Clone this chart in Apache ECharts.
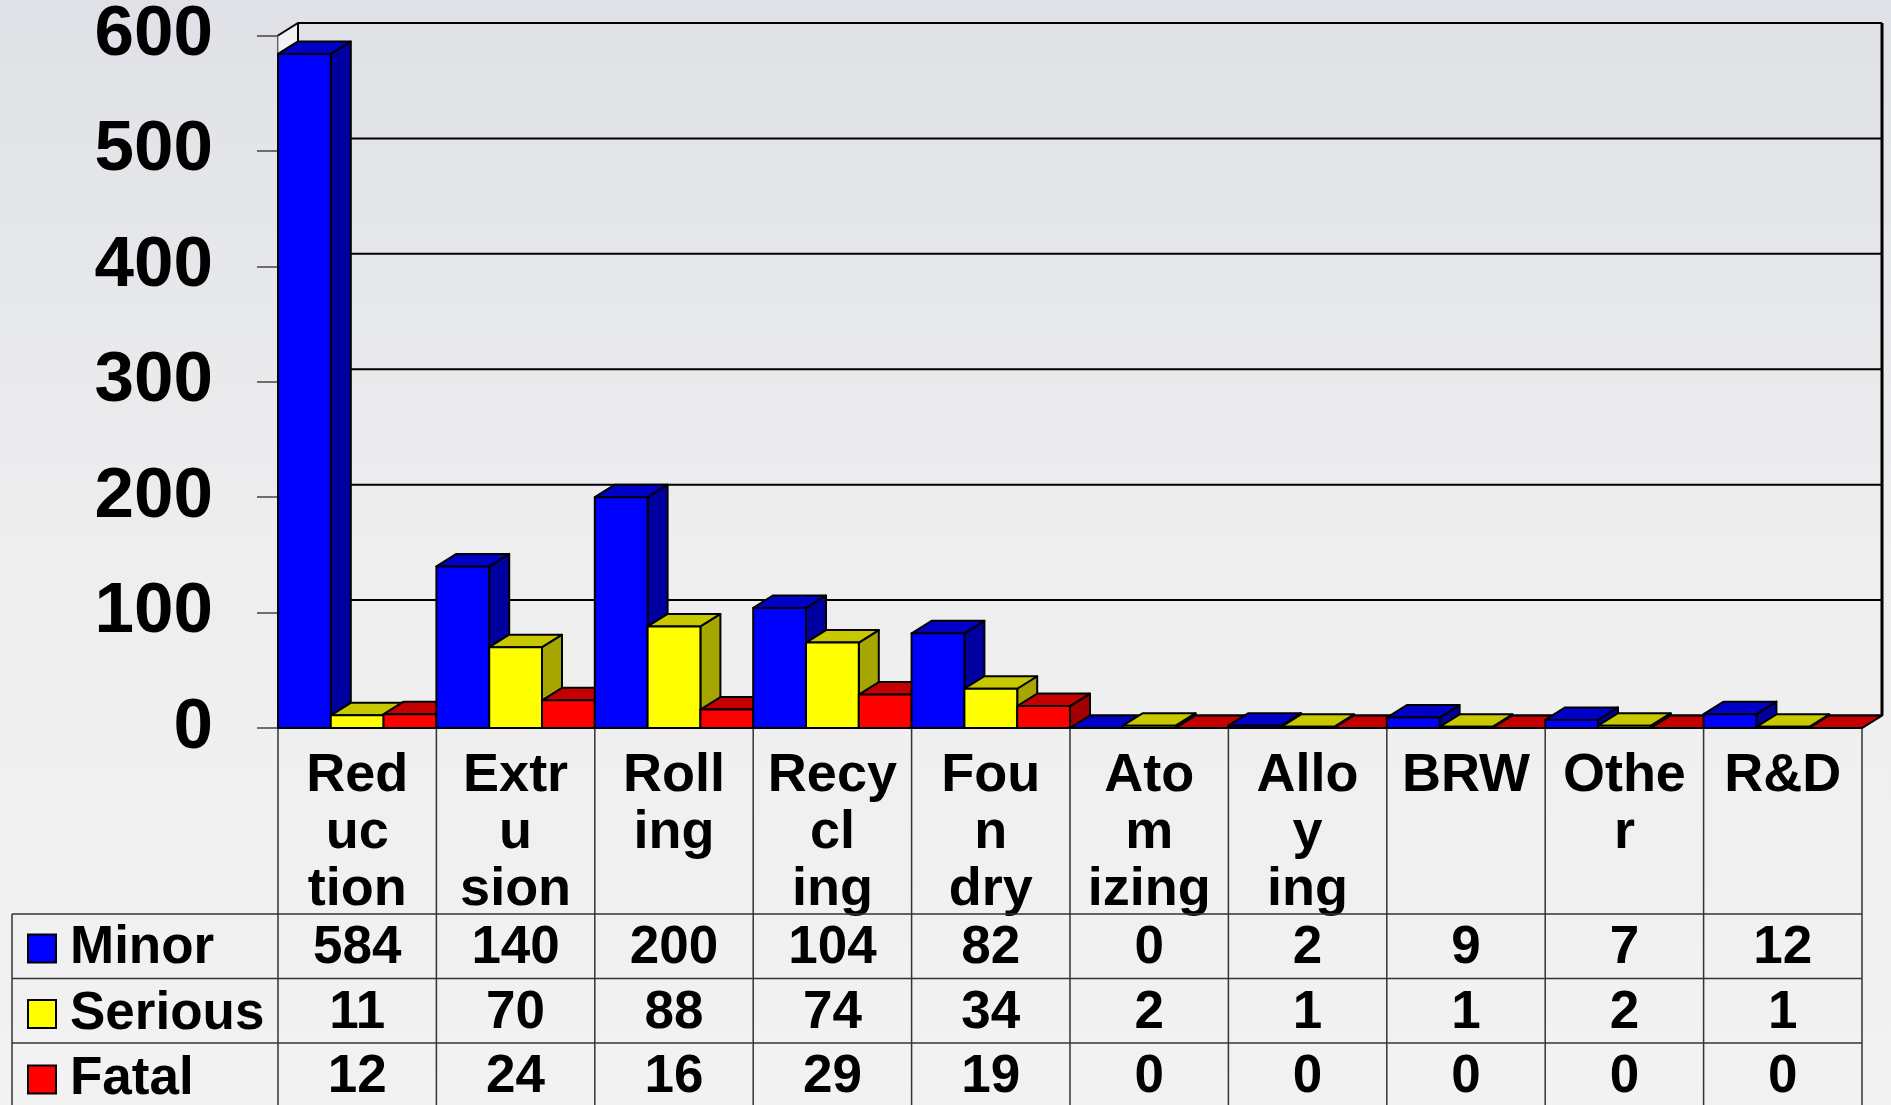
<!DOCTYPE html>
<html>
<head>
<meta charset="utf-8">
<title>Injuries by sector</title>
<script src="https://cdn.jsdelivr.net/npm/echarts@6/dist/echarts.min.js"></script>
<style>
  html, body { margin: 0; padding: 0; }
  #chart { width: 1891px; height: 1105px; }
</style>
</head>
<body>
<div id="chart"></div>
<script>
// Category labels as they are broken inside the table header
const categories = ['Red\nuc\ntion', 'Extr\nu\nsion', 'Roll\ning', 'Recy\ncl\ning', 'Fou\nn\ndry',
                    'Ato\nm\nizing', 'Allo\ny\ning', 'BRW', 'Othe\nr', 'R&D'];
// Injury counts per severity
const minor   = [584, 140, 200, 104, 82, 0, 2, 9, 7, 12];
const serious = [11, 70, 88, 74, 34, 2, 1, 1, 2, 1];
const fatal   = [12, 24, 16, 29, 19, 0, 0, 0, 0, 0];
const seriesNames = ['Minor', 'Serious', 'Fatal'];
// Value axis ticks
const yTicks = [0, 100, 200, 300, 400, 500, 600];

const FONT = '"Liberation Sans", Arial, sans-serif';
const DX = 20, DY = -12.5;            // depth of the 3D box
const ROW_TOP = 914, ROW_H = 64.5;    // data rows of the table
const TEXT_SHIFT = 2.5;               // optical baseline tweak for table text
const TABLE_LEFT = 12, PAGE_H = 1105;

const faces = [
  { front: '#0000ff', top: '#0000c8', side: '#0000a0' },
  { front: '#ffff00', top: '#c8c800', side: '#a6a600' },
  { front: '#ff0000', top: '#c40000', side: '#a00000' }
];
const OUTLINE = { stroke: '#000', lineWidth: 2, lineJoin: 'round' };

function bandEdges(api, i, v) {
  const band = api.size([1, 0])[0];
  const p = api.coord([i, v]);
  return { left: p[0] - band / 2, right: p[0] + band / 2, cx: p[0], y: p[1], band: band };
}

// One 3D box per category, plus the matching value cell in the table
function barRenderer(k) {
  return function (params, api) {
    const i = api.value(0), v = api.value(1);
    const b = bandEdges(api, i, 0);
    const yTop = api.coord([i, v])[1];
    const w = b.band / 3;
    const x0 = b.left + k * w, x1 = x0 + w;
    const y0 = b.y, y1 = yTop;
    const c = faces[k];
    const z = i * 100 + k * 10;
    const children = [
      { type: 'polygon', z2: z + 1,
        shape: { points: [[x1, y1], [x1 + DX, y1 + DY], [x1 + DX, y0 + DY], [x1, y0]] },
        style: Object.assign({ fill: c.side }, OUTLINE) },
      { type: 'polygon', z2: z + 2,
        shape: { points: [[x0, y1], [x1, y1], [x1 + DX, y1 + DY], [x0 + DX, y1 + DY]] },
        style: Object.assign({ fill: c.top }, OUTLINE) }
    ];
    if (y0 - y1 > 0.5) {
      children.push({ type: 'rect', z2: z + 3,
        shape: { x: x0, y: y1, width: w, height: y0 - y1 },
        style: Object.assign({ fill: c.front }, OUTLINE) });
    }
    children.push({ type: 'text', z2: 5000,
      style: { text: String(v), x: b.cx, y: ROW_TOP + ROW_H * (k + 0.5) + TEXT_SHIFT,
               align: 'center', verticalAlign: 'middle',
               font: 'bold 53px ' + FONT, fill: '#000' } });
    return { type: 'group', children: children };
  };
}

// Back wall gridlines, left wall and wall frame
function wallRenderer(params, api) {
  const v = api.value(1);
  const n = categories.length;
  const first = bandEdges(api, 0, v);
  const last = bandEdges(api, n - 1, v);
  const xl = first.left, xr = last.right, y = first.y;
  const children = [];
  if (params.dataIndex === 0) {
    const topY = api.coord([0, yTicks[yTicks.length - 1]])[1];
    children.push({ type: 'polygon',
      shape: { points: [[xl, topY], [xl + DX, topY + DY], [xl + DX, y + DY], [xl, y]] },
      style: { fill: 'rgba(255,255,255,0.55)', stroke: null } });
    children.push({ type: 'line',
      shape: { x1: xl + DX, y1: topY + DY, x2: xl + DX, y2: y + DY },
      style: { stroke: '#000', lineWidth: 2 } });
    children.push({ type: 'line',
      shape: { x1: xr + DX, y1: topY + DY, x2: xr + DX, y2: y + DY },
      style: { stroke: '#000', lineWidth: 3 } });
  }
  children.push({ type: 'polyline',
    shape: { points: [[xl, y], [xl + DX, y + DY], [xr + DX, y + DY]] },
    style: { stroke: '#000', lineWidth: 2, fill: null } });
  return { type: 'group', children: children };
}

// Table rules under the plot
function tableRenderer(params, api) {
  const i = api.value(0);
  const n = categories.length;
  const b = bandEdges(api, i, 0);
  const children = [
    { type: 'line', shape: { x1: b.left, y1: b.y, x2: b.left, y2: PAGE_H },
      style: { stroke: '#333', lineWidth: 1.5 } }
  ];
  if (i === n - 1) {
    children.push({ type: 'line', shape: { x1: b.right, y1: b.y, x2: b.right, y2: PAGE_H },
      style: { stroke: '#333', lineWidth: 1.5 } });
  }
  if (i === 0) {
    const xr = bandEdges(api, n - 1, 0).right;
    for (let r = 0; r < 3; r++) {
      const yy = ROW_TOP + r * ROW_H;
      children.push({ type: 'line', shape: { x1: TABLE_LEFT, y1: yy, x2: xr, y2: yy },
        style: { stroke: '#333', lineWidth: 1.5 } });
    }
    children.push({ type: 'line', shape: { x1: TABLE_LEFT, y1: ROW_TOP, x2: TABLE_LEFT, y2: PAGE_H },
      style: { stroke: '#333', lineWidth: 1.5 } });
  }
  return { type: 'group', children: children };
}

const seriesValues = [minor, serious, fatal];

const chart = echarts.init(document.getElementById('chart'), null, { renderer: 'canvas' });
chart.setOption({
  animation: false,
  backgroundColor: {
    type: 'linear', x: 0, y: 0, x2: 0, y2: 1,
    colorStops: [
      { offset: 0, color: '#dfe1e6' },
      { offset: 0.5, color: '#eeeeef' },
      { offset: 1, color: '#f2f2f2' }
    ]
  },
  color: faces.map(f => f.front),
  grid: { left: 278, right: 29, top: 34, bottom: 377, containLabel: false },
  legend: {
    orient: 'vertical', left: 27, top: 922, height: 260, padding: 0,
    itemWidth: 28, itemHeight: 28, itemGap: 12.5,
    icon: 'rect', selectedMode: false,
    itemStyle: { borderColor: '#000', borderWidth: 2 },
    textStyle: { fontSize: 53, fontWeight: 'bold', fontFamily: FONT, color: '#000',
                 lineHeight: 52, padding: [0, 0, 0, 9] },
    data: seriesNames
  },
  xAxis: {
    type: 'category', data: categories, boundaryGap: true,
    axisLine: { show: true, lineStyle: { color: '#000', width: 2 } },
    axisTick: { show: false },
    axisLabel: { interval: 0, margin: 20, color: '#000', fontSize: 54, fontWeight: 'bold',
                 fontFamily: FONT, lineHeight: 57 },
    splitLine: { show: false }
  },
  yAxis: {
    type: 'value', min: yTicks[0], max: yTicks[yTicks.length - 1], interval: 100,
    axisLine: { show: true, lineStyle: { color: '#333', width: 1.5 } },
    axisTick: { show: true, inside: false, length: 21, lineStyle: { color: '#444', width: 1.5 } },
    axisLabel: { margin: 65, color: '#000', fontSize: 71, fontWeight: 'bold', fontFamily: FONT,
                 padding: [8, 0, 0, 0] },
    splitLine: { show: false }
  },
  series: [
    { type: 'custom', name: 'wall', z: 1, silent: true,
      data: yTicks.map(v => [0, v]), encode: { x: 0, y: 1 }, renderItem: wallRenderer },
    { type: 'custom', name: 'table', z: 1, silent: true,
      data: categories.map((c, i) => [i, 0]), encode: { x: 0, y: 1 }, renderItem: tableRenderer }
  ].concat(seriesNames.map((name, k) => ({
    type: 'custom', name: name, z: 2,
    itemStyle: { color: faces[k].front },
    data: seriesValues[k].map((v, i) => [i, v]),
    encode: { x: 0, y: 1 },
    renderItem: barRenderer(k)
  })))
});
</script>
</body>
</html>
